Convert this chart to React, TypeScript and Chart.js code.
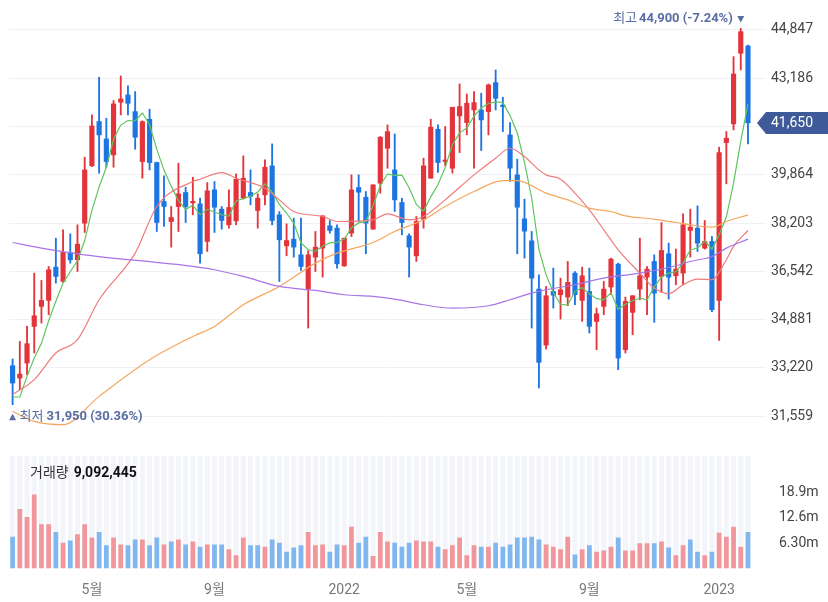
import { useEffect, useRef } from 'react';
import { Chart, registerables } from 'chart.js';
Chart.register(...registerables);

const FAM = "Roboto, 'Noto Sans CJK KR', 'Noto Sans', sans-serif";

const opens = [33292, 32868, 33384, 34645, 35332, 35539, 36685, 36192, 37190, 36937,
  38198, 40170, 41694, 41098, 40548, 42359, 42611, 42038, 40319, 41775,
  40285, 38943, 38255, 38771, 39253, 38897, 38863, 37568, 39344, 38680,
  38141, 38278, 39058, 39253, 38634, 39173, 40170, 38485, 37419, 37648,
  37109, 35928, 37029, 37339, 38106, 38026, 36731, 37854, 39425, 39092,
  37992, 39574, 40777, 40032, 38909, 37763, 37074, 38336, 39746, 41431,
  40320, 40090, 41889, 41660, 42096, 42096, 42038, 43036, 42256, 41236,
  39861, 38347, 37590, 35929, 34000, 35849, 35734, 35654, 36479, 35539,
  35849, 34817, 35333, 36000, 36789, 33842, 35127, 35929, 36341, 36880,
  36364, 37144, 36387, 36479, 37946, 38026, 37339, 37568, 35539, 40972,
  41615, 44045, 44297];
const highs = [33521, 34129, 34645, 36479, 36227, 36708, 37682, 37969, 37831, 38141,
  40468, 41924, 43219, 41809, 42417, 43265, 42921, 42726, 41720, 42119,
  40300, 39826, 38771, 40262, 39436, 39780, 39058, 39596, 39631, 38771,
  39344, 39895, 40514, 40032, 39207, 40376, 40927, 38600, 38175, 38370,
  38370, 37250, 37912, 38450, 38290, 38141, 37682, 39860, 39860, 39287,
  39517, 41180, 41580, 41270, 39058, 37831, 38427, 40434, 41775, 41580,
  41523, 42187, 42990, 42646, 42726, 42669, 42990, 43471, 42531, 41660,
  40400, 39024, 37912, 36422, 36020, 36651, 36307, 36880, 36536, 36685,
  36651, 35276, 36192, 36995, 36823, 35654, 35700, 37682, 36708, 37109,
  38221, 37511, 37305, 38519, 38680, 38794, 38290, 37740, 40812, 41351,
  43930, 44900, 44331];
const lows = [31950, 32467, 32983, 33728, 34759, 35046, 36135, 36158, 36823, 36536,
  37877, 40147, 39918, 40124, 40124, 41924, 41924, 40743, 39746, 40032,
  37912, 38084, 37373, 37912, 38221, 38485, 36822, 37224, 37877, 37992,
  38026, 38141, 39024, 38829, 38026, 38829, 38141, 36190, 37075, 37029,
  36570, 34588, 36536, 36342, 37854, 36650, 36708, 37740, 38256, 37144,
  37992, 39230, 40090, 38600, 37797, 36342, 36880, 38026, 39746, 39941,
  40170, 39918, 40628, 41236, 40090, 40697, 41236, 42096, 41350, 39631,
  37144, 36995, 34588, 32524, 33866, 35275, 34897, 35355, 35390, 34817,
  34416, 33842, 35046, 35734, 33155, 33728, 34358, 35562, 35047, 34782,
  35815, 35585, 36077, 36077, 37029, 37224, 37305, 35150, 34163, 39551,
  41408, 43472, 40927];
const closes = [32696, 33006, 34049, 35011, 35539, 36593, 36364, 37190, 36937, 37476,
  40032, 41545, 41236, 40319, 42302, 42474, 42325, 41156, 41694, 40285,
  38221, 38771, 38393, 39207, 38771, 38943, 37144, 39310, 38748, 38290,
  38737, 39711, 39746, 39115, 39058, 40124, 38290, 37625, 37600, 37373,
  36708, 37109, 37373, 38450, 37946, 36800, 37682, 39344, 39264, 38198,
  39517, 41156, 41350, 39000, 38221, 37373, 38256, 40170, 41500, 40285,
  40350, 42187, 42210, 42325, 42348, 41752, 42955, 42497, 42210, 40090,
  38748, 37923, 36307, 33407, 35700, 35720, 35906, 36158, 35734, 36387,
  34645, 35080, 35929, 36960, 33556, 35505, 35700, 36387, 36616, 35791,
  37258, 36341, 36617, 38141, 38061, 37511, 37568, 35218, 40629, 41121,
  43334, 44790, 41650];
// weekly volume, millions of shares
const volumes = [7.9, 14.8, 12.8, 18.4, 11.0, 11.0, 9.1, 6.4, 7.0, 8.5,
  11.0, 7.7, 9.1, 5.8, 7.7, 6.0, 5.8, 7.2, 7.2, 5.8,
  7.7, 6.0, 6.7, 7.2, 6.0, 6.7, 5.4, 6.0, 6.0, 6.0,
  4.8, 3.3, 7.7, 5.8, 5.8, 5.4, 7.2, 6.4, 4.2, 5.2,
  5.8, 9.1, 5.8, 6.0, 4.2, 6.0, 5.8, 10.4, 6.4, 7.9,
  3.1, 9.1, 6.7, 6.4, 5.4, 6.4, 7.0, 6.7, 6.7, 5.4,
  4.8, 5.8, 7.7, 3.3, 5.8, 5.4, 5.4, 6.4, 5.4, 6.0,
  7.7, 7.7, 7.9, 7.2, 6.0, 5.4, 4.8, 7.9, 3.5, 4.8,
  5.8, 4.2, 4.5, 5.4, 7.7, 4.5, 4.5, 6.3, 6.3, 6.3,
  6.7, 5.2, 3.3, 5.8, 7.2, 4.2, 3.3, 4.2, 8.9, 7.9,
  10.4, 5.4, 9.092445];

const ma5Head = [32215, 32215, 32925, 33556];
const ma20Idx = [0, 3, 6, 9, 12, 17, 20, 25, 26, 29, 31, 35, 37, 39, 43, 45, 50, 52, 55, 57, 60, 64, 67, 69, 71, 73, 74, 76, 78, 80, 82, 84, 87, 89, 91, 93, 95, 97, 99, 100, 102];
const ma20Val = [32295, 32811, 33728, 34186, 35562, 37166, 38771, 39631, 39711, 39940, 39746, 39402, 39000, 38600, 38428, 38256, 38313, 38520, 38313, 38428, 39000, 39860, 40434, 40777, 40491, 40032, 39860, 39712, 39230, 38657, 37969, 37282, 36479, 35963, 35768, 36078, 36273, 36250, 36938, 37400, 37946];
const ma60Idx = [0, 3, 7, 12, 19, 25, 28, 32, 37, 42, 45, 50, 53, 57, 60, 64, 68, 70, 74, 77, 80, 83, 85, 89, 92, 94, 97, 99, 102];
const ma60Val = [31722, 31378, 31263, 32237, 33498, 34300, 34645, 35390, 36020, 36823, 37166, 37533, 37912, 38313, 38771, 39287, 39665, 39665, 39230, 39001, 38714, 38600, 38451, 38336, 38221, 38141, 38061, 38256, 38485];
const ma120Idx = [0, 4, 10, 25, 28, 32, 37, 42, 46, 50, 53, 57, 61, 66, 69, 72, 74, 78, 82, 87, 92, 94, 97, 99, 102];
const ma120Val = [37533, 37340, 37109, 36708, 36594, 36364, 36020, 35883, 35734, 35677, 35585, 35390, 35275, 35355, 35562, 35791, 35906, 36078, 36307, 36479, 36731, 36880, 37052, 37339, 37648];

const priceTicks = [31559, 33220, 34881, 36542, 38203, 39864, 41525, 43186, 44847];
const volTicks = [6.3, 12.6, 18.9];
const xTickIdx = [11, 28, 46, 63, 80, 98];
const xTickText = ['5월', '9월', '2022', '5월', '9월', '2023'];
const emptySlots = 2;

const N = closes.length;
const labels = Array.from({ length: N + emptySlots }, (_, i) => String(i));

const RED = '#e3343c';
const BLUE = '#1d75e2';
const VRED = '#f1979b';
const VBLUE = '#80b7ef';
const TAGC = '#5a6ea3';

const fmt = (v: number) => v.toLocaleString('en-US');
const sparse = (idx: number[], val: number[]) => {
  const a: (number | null)[] = new Array(N).fill(null);
  idx.forEach((k, j) => { a[k] = val[j]; });
  return a;
};
const ma5 = closes.map((_, i) => {
  if (i < 4) return ma5Head[i];
  let s = 0;
  for (let k = i - 4; k <= i; k++) s += closes[k];
  return s / 5;
});

const candleColor = closes.map((c, i) => (c >= opens[i] ? RED : BLUE));
const volColor = closes.map((c, i) => {
  const up = i === 0 ? c >= opens[i] : c >= closes[i - 1];
  return up ? VRED : VBLUE;
});

const noAxisPad = (s: any) => {
  s.width = 62;
  s.paddingTop = 0;
  s.paddingBottom = 0;
};

const priceLabels = {
  id: 'priceLabels',
  afterDraw(chart: any) {
    const { ctx, scales } = chart;
    const x = scales.x, y = scales.y;
    const hi = Math.max(...highs), lo = Math.min(...lows);
    const hiIdx = highs.indexOf(hi), loIdx = lows.indexOf(lo);
    const last = closes[N - 1];
    ctx.save();
    ctx.fillStyle = TAGC;
    ctx.textBaseline = 'middle';
    ctx.textAlign = 'left';
    // high marker
    const hx = x.getPixelForValue(hiIdx), hy = y.getPixelForValue(hi);
    ctx.beginPath();
    ctx.moveTo(hx - 3.5, hy - 12.5);
    ctx.lineTo(hx + 3.5, hy - 12.5);
    ctx.lineTo(hx, hy - 6);
    ctx.closePath();
    ctx.fill();
    const hiTxt = `${fmt(hi)} (${((last - hi) / hi * 100).toFixed(2)}%)`;
    ctx.font = `bold 13px ${FAM}`;
    const bw = ctx.measureText(hiTxt).width;
    const tx = hx - 8 - bw;
    ctx.fillText(hiTxt, tx, hy - 10);
    ctx.font = `13px ${FAM}`;
    const lw = ctx.measureText('최고').width;
    ctx.fillText('최고', tx - 2 - lw, hy - 10);
    // low marker
    const lx = x.getPixelForValue(loIdx), ly = y.getPixelForValue(lo);
    ctx.beginPath();
    ctx.moveTo(lx, ly + 9);
    ctx.lineTo(lx - 3.5, ly + 15.5);
    ctx.lineTo(lx + 3.5, ly + 15.5);
    ctx.closePath();
    ctx.fill();
    ctx.font = `13px ${FAM}`;
    ctx.fillText('최저', lx + 7, ly + 12);
    const lw2 = ctx.measureText('최저').width;
    ctx.font = `bold 13px ${FAM}`;
    ctx.fillText(`${fmt(lo)} (${((last - lo) / lo * 100).toFixed(2)}%)`, lx + 7 + lw2 + 3, ly + 12);
    // current price tag
    const cy = y.getPixelForValue(last);
    const left = chart.chartArea.right - 9;
    ctx.fillStyle = '#3f5a98';
    ctx.beginPath();
    ctx.moveTo(left, cy);
    ctx.lineTo(left + 9, cy - 11);
    ctx.lineTo(chart.width, cy - 11);
    ctx.lineTo(chart.width, cy + 11);
    ctx.lineTo(left + 9, cy + 11);
    ctx.closePath();
    ctx.fill();
    ctx.fillStyle = '#ffffff';
    ctx.font = `14px ${FAM}`;
    ctx.fillText(fmt(last), chart.chartArea.right + 5, cy + 0.5);
    ctx.restore();
  },
};

const volLabel = {
  id: 'volLabel',
  afterDraw(chart: any) {
    const { ctx } = chart;
    ctx.save();
    ctx.textBaseline = 'middle';
    ctx.textAlign = 'left';
    ctx.font = `14px ${FAM}`;
    ctx.fillStyle = '#333333';
    ctx.fillText('거래량', 30, 33);
    const w = ctx.measureText('거래량').width;
    ctx.font = `bold 14px ${FAM}`;
    ctx.fillStyle = '#111111';
    ctx.fillText(fmt(Math.round(volumes[N - 1] * 1e6)), 30 + w + 5, 33);
    ctx.restore();
  },
};

export default function App() {
  const priceRef = useRef<HTMLCanvasElement>(null);
  const volRef = useRef<HTMLCanvasElement>(null);

  useEffect(() => {
    Chart.defaults.font.family = FAM;
    const lineDs = (label: string, data: (number | null)[], color: string, smooth: boolean) => ({
      type: 'line' as const,
      label,
      data,
      borderColor: color,
      borderWidth: 1.2,
      pointRadius: 0,
      spanGaps: true,
      tension: smooth ? 0.4 : 0,
      cubicInterpolationMode: smooth ? ('monotone' as const) : ('default' as const),
      order: 0,
    });

    const price = new Chart(priceRef.current!, {
      type: 'bar',
      data: {
        labels,
        datasets: [
          lineDs('MA120', sparse(ma120Idx, ma120Val), '#a874e6', true),
          lineDs('MA60', sparse(ma60Idx, ma60Val), '#f4a75c', true),
          lineDs('MA20', sparse(ma20Idx, ma20Val), '#ef7b7b', true),
          lineDs('MA5', ma5, '#5fc55f', false),
          {
            type: 'bar' as const,
            label: 'wick',
            data: lows.map((l, i) => [l, highs[i]]) as any,
            backgroundColor: candleColor,
            barThickness: 1.2,
            grouped: false,
            order: 2,
          },
          {
            type: 'bar' as const,
            label: 'body',
            data: opens.map((o, i) => [o, closes[i]]) as any,
            backgroundColor: candleColor,
            barThickness: 4.5,
            minBarLength: 1.5,
            grouped: false,
            order: 1,
          },
        ],
      },
      options: {
        responsive: false,
        animation: false,
        events: [],
        layout: { padding: { left: 9, top: 10, right: 0, bottom: 0 } },
        plugins: { legend: { display: false }, tooltip: { enabled: false } },
        scales: {
          x: { type: 'category', display: false, offset: true },
          y: {
            position: 'right',
            min: 30735,
            max: 45535,
            afterBuildTicks: (s: any) => { s.ticks = priceTicks.map((v) => ({ value: v })); },
            afterFit: noAxisPad,
            ticks: {
              padding: 5,
              color: '#444444',
              font: { size: 14, family: FAM },
              callback: (v: any) => fmt(Number(v)),
            },
            grid: { color: '#eff1f5', drawTicks: false },
            border: { display: false },
          },
        },
      },
      plugins: [priceLabels],
    } as any);

    const vol = new Chart(volRef.current!, {
      type: 'bar',
      data: {
        labels,
        datasets: [
          {
            label: 'vol',
            data: volumes,
            backgroundColor: volColor,
            barPercentage: 0.66,
            categoryPercentage: 1,
            grouped: false,
            order: 1,
          },
          {
            label: 'bg',
            data: volumes.map(() => 28),
            backgroundColor: '#f3f5fa',
            barPercentage: 0.7,
            categoryPercentage: 1,
            grouped: false,
            order: 2,
          },
        ],
      },
      options: {
        responsive: false,
        animation: false,
        events: [],
        layout: { padding: { left: 9, top: 16, right: 0, bottom: 0 } },
        plugins: { legend: { display: false }, tooltip: { enabled: false } },
        scales: {
          x: {
            type: 'category',
            offset: true,
            grid: { display: false },
            border: { display: false },
            afterFit: (s: any) => { s.height = 33.5; },
            ticks: {
              autoSkip: false,
              maxRotation: 0,
              padding: 6,
              color: '#777777',
              font: { size: 14, family: FAM },
              callback: (_v: any, i: number) => {
                const k = xTickIdx.indexOf(i);
                return k >= 0 ? xTickText[k] : '';
              },
            },
          },
          y: {
            position: 'right',
            min: 0,
            max: 28,
            afterBuildTicks: (s: any) => { s.ticks = volTicks.map((v) => ({ value: v })); },
            afterFit: noAxisPad,
            ticks: {
              padding: 5,
              color: '#444444',
              font: { size: 14, family: FAM },
              callback: (v: any) => `${Number(v).toPrecision(3)}m`,
            },
            grid: { display: false },
            border: { display: false },
          },
        },
      },
      plugins: [volLabel],
    } as any);

    return () => {
      price.destroy();
      vol.destroy();
    };
  }, []);

  return (
    <div style={{ position: 'absolute', left: 0, top: 0, width: 828, height: 602, background: '#ffffff' }}>
      <canvas ref={priceRef} width={828} height={440} style={{ position: 'absolute', left: 0, top: 0 }} />
      <canvas ref={volRef} width={828} height={162} style={{ position: 'absolute', left: 0, top: 440 }} />
    </div>
  );
}
